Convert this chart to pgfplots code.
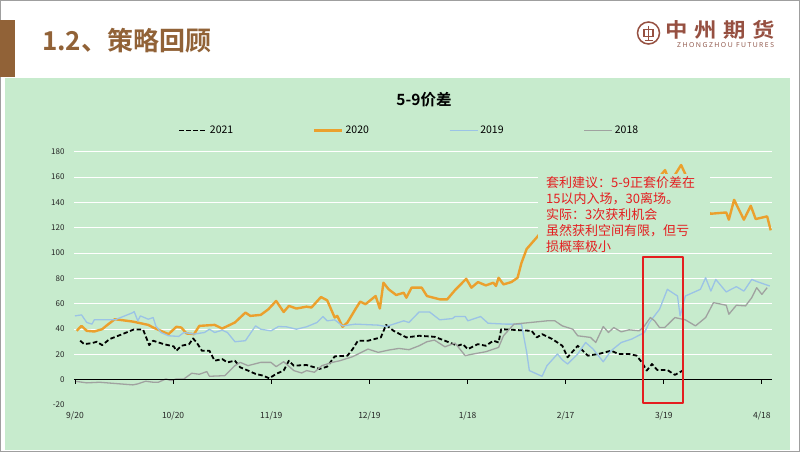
\documentclass[border=0pt]{standalone}
\usepackage{pgfplots}
\pgfplotsset{compat=1.18}
\usepackage{fontspec}
\setmainfont{Noto Sans CJK SC}
\newfontfamily\cjk{Noto Sans CJK SC}
\newfontfamily\cjkb{Noto Sans CJK SC Bold}
\newfontfamily\latinf{Noto Sans}
\definecolor{bg}{RGB}{199,235,205}
\definecolor{brownc}{RGB}{145,98,55}
\definecolor{logoc}{RGB}{150,80,65}
\definecolor{orangec}{RGB}{235,160,45}
\definecolor{bluec}{RGB}{155,195,230}
\definecolor{grayc}{RGB}{160,162,160}
\definecolor{redc}{RGB}{228,30,32}
\begin{document}
\begin{tikzpicture}[x=1pt,y=1pt]
\useasboundingbox (0,0) rectangle (802,452);
\fill[white] (0,0) rectangle (802,452);
\fill[bg] (5,2) rectangle (790,374);
\draw[gray!75, line width=1pt] (0.5,0.5) rectangle (799.5,451.5);
\fill[brownc] (0,375) rectangle (15,432);
\node[anchor=west, text=brownc, inner sep=0] at (42,411) {\fontsize{26}{30}\cjkb 1.2、策略回顾};
% logo
\draw[logoc, line width=1.5pt] (648.5,419) circle (11);
\draw[logoc, line width=1.3pt] (644,415.5) rectangle (653,422.5);
\draw[logoc, line width=1.3pt] (648.5,426) -- (648.5,411.5) (644.5,411.5) -- (652.5,411.5);
\begin{scope}[text=logoc, font=\fontsize{20}{22}\cjkb]
\node[xscale=1.12] at (676.5,422) {中};
\node[xscale=1.12] at (706,422) {州};
\node[xscale=1.12] at (735,422) {期};
\node[xscale=1.12] at (763.5,422) {货};
\end{scope}
\node[text=logoc!80!gray, anchor=west, inner sep=0] at (677,406.5) {\fontsize{6.8}{8}\latinf\addfontfeature{LetterSpace=22}ZHONGZHOU FUTURES};
% chart title
\node at (424,352) {\fontsize{15.5}{18}\cjkb 5-9价差};
\begin{axis}[
  at={(74pt,47.1pt)}, anchor=south west, scale only axis,
  width=697.7pt, height=253.2pt,
  xmin=-0.3, xmax=213, ymin=-20, ymax=180,
  axis line style={draw=none}, tick style={draw=none},
  xtick={0,30,...,210},
  xticklabels={9/20,10/20,11/19,12/19,1/18,2/17,3/19,4/18},
  ytick={-20,0,...,180},
  extra y ticks={20,40,...,180}, extra y tick labels={},
  extra y tick style={grid=major, major grid style={white, line width=0.8pt}},
  /pgf/number format/assume math mode=true,
  xticklabel style={font=\fontsize{8.5}{10}\selectfont, text=black!85, yshift=-3pt},
  yticklabel style={font=\fontsize{8}{10}\selectfont, text=black!85, xshift=-6pt},
  clip=false,
  legend columns=4,
  legend style={at={(0.149,1.0837)}, anchor=west, draw=none, fill=none, inner sep=0pt,
    font=\fontsize{10.5}{12}\selectfont,
    /tikz/every even column/.append style={column sep=78pt}},
  legend image code/.code={\draw[#1] (0pt,0pt) -- (28pt,0pt);},
  line join=round,
]
\addplot[black, line width=1.8pt, dash pattern=on 4.5pt off 2.5pt] coordinates {
(1.6,30.7) (2.8,28.0) (5.2,28.8) (6.7,29.9) (8.3,27.2) (10.6,32.0) (14.5,35.9) (18.0,39.6) (20.8,39.6) (22.7,27.2) (23.9,30.7) (27.1,28.0) (30.2,26.2) (31.0,22.8) (32.5,26.7) (34.9,28.0) (36.1,32.5) (37.2,29.3) (38.8,22.8) (41.1,22.8) (42.7,14.9) (45.0,16.2) (46.6,13.6) (48.9,14.9) (50.5,9.7) (52.9,7.1) (55.2,4.5) (57.5,3.1) (59.4,1.0) (61.5,4.5) (63.8,7.1) (65.4,14.9) (66.9,11.0) (70.8,11.5) (73.2,9.7) (74.7,8.4) (77.1,10.2) (79.4,18.3) (83.3,18.9) (84.9,24.1) (86.5,30.7) (89.6,30.7) (93.5,33.3) (95.1,43.2) (97.4,38.5) (101.3,33.3) (105.2,34.6) (109.9,33.8) (113.1,30.7) (117.0,26.7) (118.5,28.0) (120.1,24.1) (123.2,28.0) (125.6,26.7) (127.9,30.7) (129.5,29.3) (130.3,39.8) (139.6,38.5) (141.2,33.3) (142.8,35.9) (145.9,32.0) (149.0,26.7) (150.6,17.6) (153.7,26.7) (156.8,18.9) (160.0,20.2) (163.9,22.8) (166.2,20.2) (169.4,20.2) (171.7,18.9) (173.3,13.6) (174.8,7.1) (176.4,12.3) (178.0,7.6) (181.1,7.6) (183.4,3.7) (185.8,7.1)
};
\addlegendentry{2021}
\addplot[orangec, line width=2.4pt] coordinates {
(0.5,38.5) (2.0,42.4) (3.6,38.5) (5.9,38.0) (8.3,39.8) (10.2,43.8) (12.2,47.7) (17.7,45.8) (22.4,43.2) (23.9,41.1) (28.6,35.9) (31.0,41.7) (32.5,41.1) (34.1,36.4) (36.4,35.9) (38.0,42.4) (42.7,43.2) (45.0,40.3) (48.9,45.1) (52.1,52.9) (53.6,50.3) (56.8,51.1) (59.1,55.5) (61.5,62.1) (63.8,53.4) (65.4,58.2) (67.7,56.1) (70.8,57.6) (72.3,56.9) (73.2,59.5) (75.2,65.2) (77.1,62.6) (79.4,49.0) (80.2,50.3) (81.8,41.7) (83.3,45.1) (85.7,55.5) (87.2,61.6) (88.8,59.5) (91.9,66.0) (93.2,56.1) (94.3,76.5) (95.9,71.3) (98.2,66.8) (100.5,68.6) (101.3,64.7) (102.9,72.6) (106.0,72.6) (107.6,66.0) (111.5,63.4) (113.8,63.4) (116.2,70.7) (119.6,79.6) (121.2,72.6) (123.2,77.0) (125.6,74.4) (127.9,76.5) (128.7,73.9) (129.5,80.4) (131.0,75.2) (133.4,77.0) (135.3,80.4) (136.5,92.2) (138.1,103.2) (141.2,112.4)
(143,118) (145,124) (148,128) (151,133) (154,138) (157,136) (160,142) (163,146) (166,150) (169,148) (172,153) (175,156) (178,158) (180.4,165.5) (181.5,158) (183,160) (185.3,169.5) (187,160) (189,150) (191,140) (193,133)
(194.4,131.0) (199.1,132.0) (199.9,126.3) (201.5,142.0) (204.5,126.3) (206.6,137.3) (208.1,126.8) (211.6,128.9) (212.7,117.9)
};
\addlegendentry{2020}
\addplot[bluec, line width=1.3pt] coordinates {
(0,50.3) (2.0,51.1) (3.6,45.1) (5.2,43.8) (5.9,47.2) (8.3,47.2) (12.2,47.2) (17.7,52.9) (18.1,53.7) (19.2,46.4) (20.0,50.3) (22.4,47.7) (23.9,49.0) (24.7,42.4) (26.3,37.2) (28.6,34.6) (31.7,34.1) (33.3,37.2) (36.4,35.9) (39.6,37.2) (41.1,39.8) (42.7,37.2) (45.0,39.0) (46.6,37.2) (48.9,29.9) (52.1,30.7) (55.2,42.4) (56.8,39.8) (59.9,38.5) (62.2,41.9) (64.6,41.7) (67.7,39.8) (70.8,41.7) (74.0,45.1) (75.8,49.8) (77.1,46.4) (79.4,47.2) (81.8,42.4) (85.7,43.8) (92.7,43.0) (95.1,41.9) (100.5,46.4) (102.1,45.1) (105.2,53.4) (108.4,53.4) (111.5,47.2) (115.4,48.2) (116.2,49.8) (119.3,49.8) (120.1,46.4) (124.0,49.8) (126.3,44.5) (131.8,43.8) (136.5,43.8) (138.1,21.5) (138.9,7.1) (142.8,2.6) (144.3,11.0) (147.5,20.2) (149.0,15.5) (150.6,12.3) (153.7,20.2) (156.1,29.3) (158.4,24.1) (161.5,14.1) (163.9,22.8) (167.0,29.3) (170.2,32.0) (174.1,37.2) (175.6,45.1) (178.7,55.5) (181.1,71.3) (184.2,66.0) (185.0,50.3) (186.6,66.0) (191.2,71.3) (192.8,80.4) (194.4,69.9) (195.9,79.1) (199.1,69.2) (200.6,71.3) (202.2,73.4) (204.5,69.9) (206.9,79.1) (208.4,77.5) (212.4,73.9)
};
\addlegendentry{2019}
\addplot[grayc, line width=1.3pt] coordinates {
(0,-1.3) (3.6,-2.6) (7.5,-2.1) (9.9,-2.6) (17.7,-4.2) (19.2,-3.4) (21.6,-1.3) (23.9,-2.1) (25.5,-2.1) (27.8,0.5) (29.4,-0.8) (31.0,0.5) (33.3,0.5) (35.7,5.0) (38.0,4.2) (40.3,6.3) (41.1,2.6) (45.8,3.1) (48.9,11.0) (50.5,13.6) (52.9,11.0) (56.8,13.6) (59.9,13.6) (61.5,10.2) (63.8,14.1) (66.9,7.1) (69.3,5.2) (70.8,7.1) (73.2,5.8) (75.5,11.0) (78.7,13.6) (81.0,14.9) (84.9,18.1) (89.6,24.1) (92.7,21.5) (95.9,23.3) (99.0,24.6) (102.1,23.6) (105.2,26.7) (107.6,29.9) (109.9,31.2) (113.1,25.9) (116.2,28.8) (119.3,18.9) (121.7,20.2) (125.6,22.0) (129.5,25.4) (131.0,34.6) (134.2,43.8) (144.3,46.4) (146.7,46.4) (149.0,42.4) (152.2,39.8) (153.7,34.6) (157.6,33.3) (159.2,29.3) (161.5,41.9) (163.1,37.2) (164.7,41.1) (167.0,37.7) (169.4,39.3) (172.5,38.5) (174.1,42.4) (175.9,49.0) (177.2,46.4) (178.7,41.1) (180.3,41.1) (183.4,49.0) (186.6,47.2) (189.7,42.4) (192.8,49.0) (195.2,60.8) (199.1,58.7) (199.9,51.6) (202.2,58.7) (205.0,58.2) (206.9,64.7) (208.4,72.6) (210.0,67.3) (211.6,72.6)
};
\addlegendentry{2018}
\addplot[black, line width=1pt, forget plot] coordinates {(-0.3,0) (213,0)};
\pgfplotsinvokeforeach{0,30,60,90,120,150,180,210}{
  \draw[black, line width=0.8pt] (axis cs:#1,0) -- ++(0pt,-4pt);
}
\fill[bg] (axis cs:141.5,102.4) rectangle (axis cs:194.2,162.4);
\draw[redc, line width=2pt] (axis cs:173.7,-18.7) rectangle (axis cs:186,97);
\end{axis}
\node[anchor=north west, align=left, inner sep=0, text=redc, font=\fontsize{13}{16}\cjk] at (546,276) {套利建议：5-9正套价差在\\15以内入场，30离场。\\实际：3次获利机会\\虽然获利空间有限，但亏\\损概率极小};
\end{tikzpicture}
\end{document}
